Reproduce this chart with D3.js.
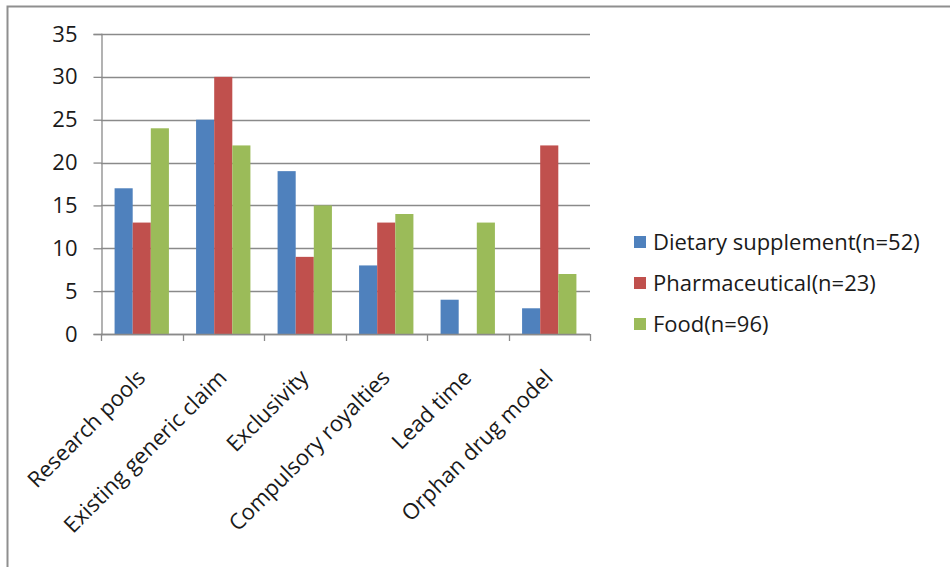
<!DOCTYPE html>
<html>
<head>
<meta charset="utf-8">
<script src="https://cdn.jsdelivr.net/npm/d3@7"></script>
<style>
  body { margin: 0; background: #fff; }
  svg text { font-family: "Open Sans", Lato, sans-serif; fill: #1a1a1a; }
</style>
</head>
<body>
<script>
const categories = ["Research pools", "Existing generic claim", "Exclusivity",
                    "Compulsory royalties", "Lead time", "Orphan drug model"];
const seriesNames = ["Dietary supplement(n=52)", "Pharmaceutical(n=23)", "Food(n=96)"];
const dietary = [17, 25, 19, 8, 4, 3];
const pharma = [13, 30, 9, 13, 0, 22];
const food = [24, 22, 15, 14, 13, 7];
const yTicks = [0, 5, 10, 15, 20, 25, 30, 35];
const colors = ["#4F81BD", "#C0504D", "#9BBB59"];

const w = 950, h = 567;
const plot = {left: 101, right: 590, top: 34, bottom: 334};

const svg = d3.select("body").append("svg")
  .attr("width", w)
  .attr("height", h);

// chart border (only top and left visible in frame)
svg.append("rect")
  .attr("x", 7.5).attr("y", 6.5)
  .attr("width", 1000).attr("height", 1000)
  .attr("fill", "none")
  .attr("stroke", "#8f8f8f")
  .attr("stroke-width", 2);

const x0 = d3.scaleBand()
  .domain(categories)
  .range([plot.left, plot.right])
  .paddingInner(0);

const x1 = d3.scaleBand()
  .domain(seriesNames)
  .range([0, x0.bandwidth()])
  .paddingInner(0)
  .paddingOuter(0.75);

const y = d3.scaleLinear()
  .domain([0, 35])
  .range([plot.bottom, plot.top]);

// gridlines
svg.append("g")
  .selectAll("line")
  .data(yTicks)
  .enter()
  .append("line")
  .attr("x1", plot.left)
  .attr("x2", plot.right)
  .attr("y1", d => Math.round(y(d)) + 0.5)
  .attr("y2", d => Math.round(y(d)) + 0.5)
  .attr("stroke", "#8a8a8a")
  .attr("stroke-width", 1.3);

// bars
const rows = categories.map((c, i) => ({cat: c, vals: [dietary[i], pharma[i], food[i]]}));
const groups = svg.append("g")
  .selectAll("g")
  .data(rows)
  .enter()
  .append("g")
  .attr("transform", d => "translate(" + x0(d.cat) + ",0)");

groups.selectAll("rect")
  .data(d => d.vals.map((v, j) => ({name: seriesNames[j], v: v, j: j})))
  .enter()
  .append("rect")
  .attr("x", d => x1(d.name))
  .attr("width", x1.bandwidth())
  .attr("y", d => y(d.v))
  .attr("height", d => y(0) - y(d.v))
  .attr("fill", d => colors[d.j]);

// y axis
const yAxis = d3.axisLeft(y).tickValues(yTicks).tickSize(8).tickPadding(16);
const gy = svg.append("g")
  .attr("transform", "translate(" + (plot.left + 0.5) + ",0)")
  .call(yAxis);
gy.select(".domain").attr("stroke", "#8a8a8a").attr("stroke-width", 1.3);
gy.selectAll(".tick line").attr("stroke", "#8a8a8a").attr("stroke-width", 1.3);
gy.selectAll("text").style("font-size", "22px").attr("fill", "#1a1a1a");

// x axis line and ticks at category boundaries
const gx = svg.append("g");
gx.append("line")
  .attr("x1", plot.left).attr("x2", plot.right)
  .attr("y1", plot.bottom + 0.5).attr("y2", plot.bottom + 0.5)
  .attr("stroke", "#8a8a8a").attr("stroke-width", 1.3);
const bounds = categories.map(c => x0(c)).concat([plot.right]);
gx.selectAll(".xt")
  .data(bounds)
  .enter()
  .append("line")
  .attr("x1", d => Math.round(d) + 0.5).attr("x2", d => Math.round(d) + 0.5)
  .attr("y1", plot.bottom).attr("y2", plot.bottom + 7)
  .attr("stroke", "#8a8a8a").attr("stroke-width", 1.3);

gx.selectAll("text")
  .data(categories)
  .enter()
  .append("text")
  .attr("text-anchor", "end")
  .attr("transform", d => "translate(" + (x0(d) + x0.bandwidth() / 2 + 5) + "," + (plot.bottom + 45) + ") rotate(-45)")
  .style("font-size", "22px")
  .text(d => d);

// legend
const legend = svg.append("g")
  .selectAll("g")
  .data(seriesNames)
  .enter()
  .append("g")
  .attr("transform", (d, i) => "translate(634," + (242 + i * 41) + ")");

legend.append("rect")
  .attr("x", 0).attr("y", -6)
  .attr("width", 12).attr("height", 12)
  .attr("fill", (d, i) => colors[i]);

legend.append("text")
  .attr("x", 19)
  .attr("dy", "0.35em")
  .style("font-size", "22px")
  .text(d => d);
</script>
</body>
</html>
